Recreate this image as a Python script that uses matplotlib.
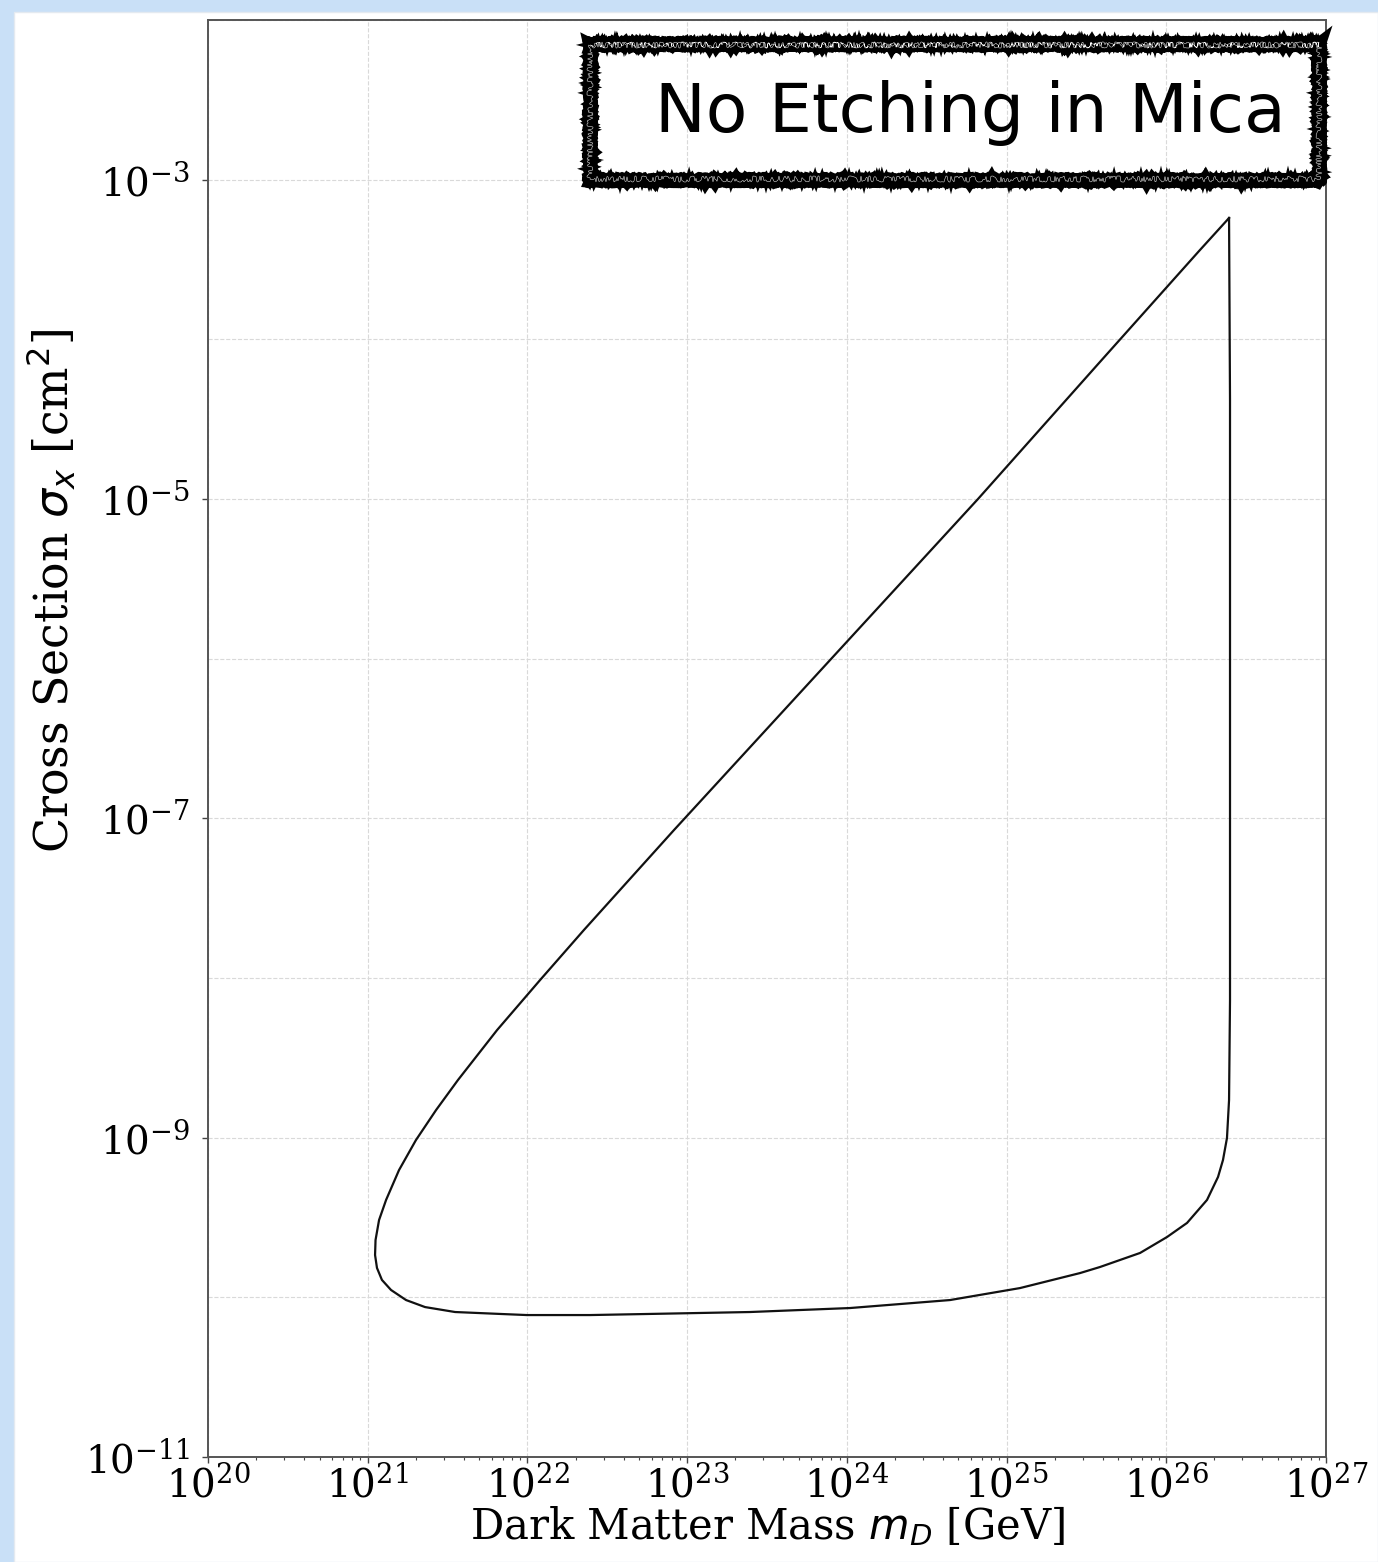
import numpy as np
import matplotlib
matplotlib.use("Agg")
import matplotlib.pyplot as plt
from matplotlib.lines import Line2D
from matplotlib.patches import Rectangle
from matplotlib.ticker import FixedLocator, LogFormatterSciNotation, LogLocator, NullFormatter

plt.rcParams['font.family'] = ['DejaVu Serif']
plt.rcParams['mathtext.fontset'] = 'dejavusans'

# Boundary of the excluded region, traced as a closed loop (log10 values)
log_mass = [26.393, 26.399, 26.399, 26.399, 26.393, 26.380, 26.355, 26.324,
            26.255, 26.130, 26.005, 25.836, 25.585, 25.460, 25.084, 24.646,
            24.020, 23.394, 22.767, 22.392, 21.997, 21.828, 21.547, 21.359,
            21.240, 21.146, 21.089, 21.058, 21.046, 21.049, 21.071, 21.115,
            21.196, 21.302, 21.428, 21.565, 21.810, 22.079, 22.354, 22.636,
            22.918, 23.901, 24.821, 25.579, 26.205, 26.393]
log_sigma = [-3.240, -4.380, -6.259, -8.138, -8.764, -9.002, -9.140, -9.246,
             -9.390, -9.534, -9.622, -9.722, -9.810, -9.848, -9.942, -10.017,
             -10.067, -10.092, -10.104, -10.111, -10.111, -10.104, -10.092, -10.061,
             -10.017, -9.954, -9.891, -9.816, -9.735, -9.641, -9.516, -9.390,
             -9.203, -9.015, -8.827, -8.639, -8.326, -8.013, -7.699, -7.386,
             -7.073, -6.002, -5.000, -4.148, -3.447, -3.240]

x_limits = (1e20, 1e27)
y_limits = (1e-11, 1e-2)
banner_text = "No Etching in Mica"

W, H = 1378, 1562
fig = plt.figure(figsize=(W / 100, H / 100), dpi=100)
fig.patch.set_facecolor('#c9e0f7')
fig.patches.append(Rectangle((14 / W, 0), 1 - 14 / W, 1 - 12 / H,
                             transform=fig.transFigure, facecolor='white',
                             edgecolor='#e4eaf0', lw=1.0, zorder=-5))

ax = fig.add_axes([208 / W, 105 / H, 1118 / W, 1437 / H])
ax.set_xscale('log')
ax.set_yscale('log')
ax.set_xlim(*x_limits)
ax.set_ylim(*y_limits)

ax.plot(10.0 ** np.array(log_mass), 10.0 ** np.array(log_sigma),
        color='#111111', lw=1.6, solid_joinstyle='round')

# Axis ticks
ax.xaxis.set_major_locator(LogLocator(base=10, numticks=20))
ax.xaxis.set_minor_locator(LogLocator(base=10, subs=np.arange(2, 10), numticks=20))
ax.xaxis.set_minor_formatter(NullFormatter())
ax.yaxis.set_major_locator(FixedLocator(10.0 ** np.arange(-11, -2, 2)))
ax.yaxis.set_minor_locator(FixedLocator(10.0 ** np.arange(-10, -1, 2)))
ax.yaxis.set_major_formatter(LogFormatterSciNotation())
ax.yaxis.set_minor_formatter(NullFormatter())
ax.tick_params(axis='both', which='major', labelsize=28, length=4, width=1.0,
               color='#444444')
ax.tick_params(axis='x', which='major', pad=2)
ax.tick_params(axis='y', which='major', pad=9)
ax.tick_params(axis='x', which='minor', length=2.5, width=0.8, color='#444444')
ax.tick_params(axis='y', which='minor', length=0)

ax.grid(True, which='major', ls='--', color='#d9d9d9', lw=0.8)
ax.yaxis.grid(True, which='minor', ls='--', color='#d9d9d9', lw=0.8)

for sp in ax.spines.values():
    sp.set_color('#555555')
    sp.set_linewidth(1.4)

ax.set_xlabel(r"Dark Matter Mass $m_D$ [GeV]", fontsize=30, labelpad=0)
ax.set_ylabel(r"Cross Section $\sigma_x$ [cm$^2$]", fontsize=33)
ax.yaxis.set_label_coords(-0.116, 0.603)

# Hand-drawn style banner: a scribbled thick frame around the text
bx0, by0, bx1, by1 = 590, 44, 1319, 180      # pixel box (top-left origin)


def frame_line(dx, dy, lw, color, sketch):
    xs = np.array([bx0 + dx, bx1 - dx, bx1 - dx, bx0 + dx, bx0 + dx, bx1 - dx]) / W
    ys = 1 - np.array([by0 + dy, by0 + dy, by1 - dy, by1 - dy, by0 + dy, by0 + dy]) / H
    ln = Line2D(xs, ys, transform=fig.transFigure, color=color, lw=lw,
                solid_joinstyle='miter', solid_capstyle='butt', zorder=5)
    ln.set_sketch_params(*sketch)
    fig.lines.append(ln)


frame_line(0, 0, 9.5, 'black', (1.0, 8, 4))
frame_line(-4, -4, 3.0, 'black', (2.0, 3, 8))
frame_line(4, 4, 3.0, 'black', (2.0, 3, 8))
frame_line(-2, 3, 2.0, 'black', (2.2, 2, 10))
frame_line(2, -3, 2.0, 'black', (2.2, 2, 10))
frame_line(0, 1, 0.35, 'white', (3.0, 5, 20))

fig.text(970 / W, 1 - 113 / H, banner_text, family='DejaVu Sans',
         fontsize=49, ha='center', va='center', zorder=6)

fig.savefig("out.png", dpi=100, facecolor=fig.get_facecolor())
